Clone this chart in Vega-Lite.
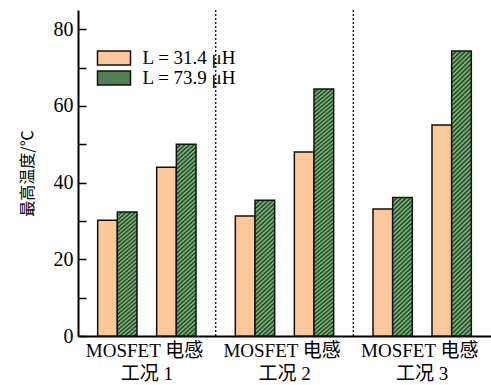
{
"$schema": "https://vega.github.io/schema/vega-lite/v6.json",
"width": 413, "height": 326,
"autosize": {"type": "none"},
"padding": {"left": 78, "top": 10, "right": 0, "bottom": 49},
"background": "white",
"config": {"view": {"stroke": null}, "font": "Liberation Serif"},
"layer": [
{
"data": {"values": [{"group": "工况 2"}, {"group": "工况 3"}]},
"mark": {"type": "rule", "strokeDash": [2, 2], "strokeWidth": 1.5, "color": "#222222"},
"encoding": {"x": {"field": "group", "type": "nominal", "bandPosition": 0, "scale": {"domain": ["工况 1", "工况 2", "工况 3"], "paddingInner": 0, "paddingOuter": 0}}}
},
{
"data": {"values": [
{"group": "工况 1", "device": "MOSFET", "L": "L=31.4μH", "slot": "MOSFET-1", "t": 30.2},
{"group": "工况 1", "device": "MOSFET", "L": "L=73.9μH", "slot": "MOSFET-2", "t": 32.3},
{"group": "工况 1", "device": "电感", "L": "L=31.4μH", "slot": "电感-1", "t": 44},
{"group": "工况 1", "device": "电感", "L": "L=73.9μH", "slot": "电感-2", "t": 50},
{"group": "工况 2", "device": "MOSFET", "L": "L=31.4μH", "slot": "MOSFET-1", "t": 31.3},
{"group": "工况 2", "device": "MOSFET", "L": "L=73.9μH", "slot": "MOSFET-2", "t": 35.4},
{"group": "工况 2", "device": "电感", "L": "L=31.4μH", "slot": "电感-1", "t": 48},
{"group": "工况 2", "device": "电感", "L": "L=73.9μH", "slot": "电感-2", "t": 64.4},
{"group": "工况 3", "device": "MOSFET", "L": "L=31.4μH", "slot": "MOSFET-1", "t": 33.1},
{"group": "工况 3", "device": "MOSFET", "L": "L=73.9μH", "slot": "MOSFET-2", "t": 36.1},
{"group": "工况 3", "device": "电感", "L": "L=31.4μH", "slot": "电感-1", "t": 55},
{"group": "工况 3", "device": "电感", "L": "L=73.9μH", "slot": "电感-2", "t": 74.3}
]},
"mark": {"type": "bar", "stroke": "#111111", "strokeWidth": 1.5},
"encoding": {
"x": {"field": "group", "type": "nominal", "scale": {"domain": ["工况 1", "工况 2", "工况 3"], "paddingInner": 0, "paddingOuter": 0},
 "axis": {"title": null, "ticks": false, "domainColor": "#000000", "domainWidth": 2, "labelAngle": 0, "labelAlign": "center", "labelFont": "Liberation Serif, Noto Sans CJK SC", "labelFontSize": 19, "labelColor": "#000000", "labelPadding": 5, "labelLineHeight": 23, "labelBaseline": "top", "labelExpr": "['MOSFET 电感 ​', datum.label]"}},
"xOffset": {"field": "slot", "type": "nominal", "scale": {"domain": ["MOSFET-1", "MOSFET-2", "gap", "电感-1", "电感-2"], "paddingInner": 0, "paddingOuter": 1.324}},
"y": {"field": "t", "type": "quantitative", "scale": {"domain": [0, 85], "nice": false},
 "axis": {"title": "最高温度/℃", "titleFont": "Noto Sans CJK SC", "titleFontSize": 16, "titleFontWeight": "normal", "titleColor": "#000000", "titlePadding": 18, "values": [0, 10, 20, 30, 40, 50, 60, 70, 80], "labelExpr": "datum.value % 20 === 0 ? datum.label : ''", "labelFont": "Liberation Serif", "labelFontSize": 20, "labelColor": "#000000", "labelPadding": 13, "tickSize": -8, "tickColor": "#000000", "tickWidth": 1.5, "domainColor": "#000000", "domainWidth": 2, "grid": false}},
"fill": {"field": "L", "type": "nominal",
 "scale": {"domain": ["L=31.4μH", "L=73.9μH"], "range": ["#fcc89b", "#517f51"]},
 "legend": {"orient": "none", "legendX": 26.5, "legendY": 38.5, "title": null, "padding": 0, "rowPadding": -2, "symbolType": "M-2.357,-1H2.357V1H-2.357Z", "symbolSize": 196, "symbolStrokeColor": "#111111", "symbolStrokeWidth": 1.5, "symbolOpacity": 1, "labelFont": "Liberation Serif", "labelFontSize": 19, "labelColor": "#000000", "labelOffset": 19,
  "labelExpr": "datum.value === 'L=31.4μH' ? 'L = 31.4 μH' : 'L = 73.9 μH'"
 },
 "condition": [
 {"test": "datum.L === 'L=73.9μH' && datum.t < 40", "value": {"gradient": "linear", "x1": 0, "y1": 0, "x2": 0.1513, "y2": 1.1151, "stops": [
{"offset":0,"color":"#1e3a1e"},{"offset":0.014,"color":"#84c484"},{"offset":0.028,"color":"#1e3a1e"},{"offset":0.042,"color":"#84c484"},{"offset":0.056,"color":"#1e3a1e"},{"offset":0.07,"color":"#84c484"},{"offset":0.084,"color":"#1e3a1e"},{"offset":0.098,"color":"#84c484"},{"offset":0.112,"color":"#1e3a1e"},{"offset":0.126,"color":"#84c484"},{"offset":0.14,"color":"#1e3a1e"},{"offset":0.154,"color":"#84c484"},{"offset":0.168,"color":"#1e3a1e"},{"offset":0.182,"color":"#84c484"},{"offset":0.196,"color":"#1e3a1e"},{"offset":0.21,"color":"#84c484"},{"offset":0.224,"color":"#1e3a1e"},{"offset":0.238,"color":"#84c484"},{"offset":0.252,"color":"#1e3a1e"},{"offset":0.266,"color":"#84c484"},{"offset":0.28,"color":"#1e3a1e"},{"offset":0.294,"color":"#84c484"},{"offset":0.308,"color":"#1e3a1e"},{"offset":0.322,"color":"#84c484"},{"offset":0.336,"color":"#1e3a1e"},{"offset":0.35,"color":"#84c484"},{"offset":0.364,"color":"#1e3a1e"},{"offset":0.378,"color":"#84c484"},{"offset":0.392,"color":"#1e3a1e"},{"offset":0.406,"color":"#84c484"},{"offset":0.42,"color":"#1e3a1e"},{"offset":0.434,"color":"#84c484"},{"offset":0.448,"color":"#1e3a1e"},{"offset":0.462,"color":"#84c484"},{"offset":0.476,"color":"#1e3a1e"},{"offset":0.49,"color":"#84c484"},{"offset":0.504,"color":"#1e3a1e"},{"offset":0.518,"color":"#84c484"},{"offset":0.532,"color":"#1e3a1e"},{"offset":0.546,"color":"#84c484"},{"offset":0.56,"color":"#1e3a1e"},{"offset":0.574,"color":"#84c484"},{"offset":0.588,"color":"#1e3a1e"},{"offset":0.602,"color":"#84c484"},{"offset":0.616,"color":"#1e3a1e"},{"offset":0.63,"color":"#84c484"},{"offset":0.644,"color":"#1e3a1e"},{"offset":0.658,"color":"#84c484"},{"offset":0.672,"color":"#1e3a1e"},{"offset":0.686,"color":"#84c484"},{"offset":0.7,"color":"#1e3a1e"},{"offset":0.714,"color":"#84c484"},{"offset":0.728,"color":"#1e3a1e"},{"offset":0.742,"color":"#84c484"},{"offset":0.756,"color":"#1e3a1e"},{"offset":0.77,"color":"#84c484"},{"offset":0.784,"color":"#1e3a1e"},{"offset":0.798,"color":"#84c484"},{"offset":0.812,"color":"#1e3a1e"},{"offset":0.826,"color":"#84c484"},{"offset":0.84,"color":"#1e3a1e"},{"offset":0.854,"color":"#84c484"},{"offset":0.868,"color":"#1e3a1e"},{"offset":0.882,"color":"#84c484"},{"offset":0.896,"color":"#1e3a1e"},{"offset":0.91,"color":"#84c484"},{"offset":0.924,"color":"#1e3a1e"},{"offset":0.938,"color":"#84c484"},{"offset":0.952,"color":"#1e3a1e"},{"offset":0.966,"color":"#84c484"},{"offset":0.98,"color":"#1e3a1e"},{"offset":0.994,"color":"#84c484"},{"offset":1,"color":"#1e3a1e"}
 ]}},
 {"test": "datum.L === 'L=73.9μH' && datum.t < 55", "value": {"gradient": "linear", "x1": 0, "y1": 0, "x2": 0.1018, "y2": 1.0843, "stops": [
{"offset":0,"color":"#1e3a1e"},{"offset":0.01,"color":"#84c484"},{"offset":0.02,"color":"#1e3a1e"},{"offset":0.03,"color":"#84c484"},{"offset":0.04,"color":"#1e3a1e"},{"offset":0.05,"color":"#84c484"},{"offset":0.06,"color":"#1e3a1e"},{"offset":0.07,"color":"#84c484"},{"offset":0.08,"color":"#1e3a1e"},{"offset":0.09,"color":"#84c484"},{"offset":0.1,"color":"#1e3a1e"},{"offset":0.11,"color":"#84c484"},{"offset":0.12,"color":"#1e3a1e"},{"offset":0.13,"color":"#84c484"},{"offset":0.14,"color":"#1e3a1e"},{"offset":0.15,"color":"#84c484"},{"offset":0.16,"color":"#1e3a1e"},{"offset":0.17,"color":"#84c484"},{"offset":0.18,"color":"#1e3a1e"},{"offset":0.19,"color":"#84c484"},{"offset":0.2,"color":"#1e3a1e"},{"offset":0.21,"color":"#84c484"},{"offset":0.22,"color":"#1e3a1e"},{"offset":0.23,"color":"#84c484"},{"offset":0.24,"color":"#1e3a1e"},{"offset":0.25,"color":"#84c484"},{"offset":0.26,"color":"#1e3a1e"},{"offset":0.27,"color":"#84c484"},{"offset":0.28,"color":"#1e3a1e"},{"offset":0.29,"color":"#84c484"},{"offset":0.3,"color":"#1e3a1e"},{"offset":0.31,"color":"#84c484"},{"offset":0.32,"color":"#1e3a1e"},{"offset":0.33,"color":"#84c484"},{"offset":0.34,"color":"#1e3a1e"},{"offset":0.35,"color":"#84c484"},{"offset":0.36,"color":"#1e3a1e"},{"offset":0.37,"color":"#84c484"},{"offset":0.38,"color":"#1e3a1e"},{"offset":0.39,"color":"#84c484"},{"offset":0.4,"color":"#1e3a1e"},{"offset":0.41,"color":"#84c484"},{"offset":0.42,"color":"#1e3a1e"},{"offset":0.43,"color":"#84c484"},{"offset":0.44,"color":"#1e3a1e"},{"offset":0.45,"color":"#84c484"},{"offset":0.46,"color":"#1e3a1e"},{"offset":0.47,"color":"#84c484"},{"offset":0.48,"color":"#1e3a1e"},{"offset":0.49,"color":"#84c484"},{"offset":0.5,"color":"#1e3a1e"},{"offset":0.51,"color":"#84c484"},{"offset":0.52,"color":"#1e3a1e"},{"offset":0.53,"color":"#84c484"},{"offset":0.54,"color":"#1e3a1e"},{"offset":0.55,"color":"#84c484"},{"offset":0.56,"color":"#1e3a1e"},{"offset":0.57,"color":"#84c484"},{"offset":0.58,"color":"#1e3a1e"},{"offset":0.59,"color":"#84c484"},{"offset":0.6,"color":"#1e3a1e"},{"offset":0.61,"color":"#84c484"},{"offset":0.62,"color":"#1e3a1e"},{"offset":0.63,"color":"#84c484"},{"offset":0.64,"color":"#1e3a1e"},{"offset":0.65,"color":"#84c484"},{"offset":0.66,"color":"#1e3a1e"},{"offset":0.67,"color":"#84c484"},{"offset":0.68,"color":"#1e3a1e"},{"offset":0.69,"color":"#84c484"},{"offset":0.7,"color":"#1e3a1e"},{"offset":0.71,"color":"#84c484"},{"offset":0.72,"color":"#1e3a1e"},{"offset":0.73,"color":"#84c484"},{"offset":0.74,"color":"#1e3a1e"},{"offset":0.75,"color":"#84c484"},{"offset":0.76,"color":"#1e3a1e"},{"offset":0.77,"color":"#84c484"},{"offset":0.78,"color":"#1e3a1e"},{"offset":0.79,"color":"#84c484"},{"offset":0.8,"color":"#1e3a1e"},{"offset":0.81,"color":"#84c484"},{"offset":0.82,"color":"#1e3a1e"},{"offset":0.83,"color":"#84c484"},{"offset":0.84,"color":"#1e3a1e"},{"offset":0.85,"color":"#84c484"},{"offset":0.86,"color":"#1e3a1e"},{"offset":0.87,"color":"#84c484"},{"offset":0.88,"color":"#1e3a1e"},{"offset":0.89,"color":"#84c484"},{"offset":0.9,"color":"#1e3a1e"},{"offset":0.91,"color":"#84c484"},{"offset":0.92,"color":"#1e3a1e"},{"offset":0.93,"color":"#84c484"},{"offset":0.94,"color":"#1e3a1e"},{"offset":0.95,"color":"#84c484"},{"offset":0.96,"color":"#1e3a1e"},{"offset":0.97,"color":"#84c484"},{"offset":0.98,"color":"#1e3a1e"},{"offset":0.99,"color":"#84c484"},{"offset":1,"color":"#1e3a1e"}
 ]}},
 {"test": "datum.L === 'L=73.9μH'", "value": {"gradient": "linear", "x1": 0, "y1": 0, "x2": 0.0719, "y2": 1.0628, "stops": [
{"offset":0,"color":"#1e3a1e"},{"offset":0.0075,"color":"#84c484"},{"offset":0.015,"color":"#1e3a1e"},{"offset":0.0225,"color":"#84c484"},{"offset":0.03,"color":"#1e3a1e"},{"offset":0.0375,"color":"#84c484"},{"offset":0.045,"color":"#1e3a1e"},{"offset":0.0525,"color":"#84c484"},{"offset":0.06,"color":"#1e3a1e"},{"offset":0.0675,"color":"#84c484"},{"offset":0.075,"color":"#1e3a1e"},{"offset":0.0825,"color":"#84c484"},{"offset":0.09,"color":"#1e3a1e"},{"offset":0.0975,"color":"#84c484"},{"offset":0.105,"color":"#1e3a1e"},{"offset":0.1125,"color":"#84c484"},{"offset":0.12,"color":"#1e3a1e"},{"offset":0.1275,"color":"#84c484"},{"offset":0.135,"color":"#1e3a1e"},{"offset":0.1425,"color":"#84c484"},{"offset":0.15,"color":"#1e3a1e"},{"offset":0.1575,"color":"#84c484"},{"offset":0.165,"color":"#1e3a1e"},{"offset":0.1725,"color":"#84c484"},{"offset":0.18,"color":"#1e3a1e"},{"offset":0.1875,"color":"#84c484"},{"offset":0.195,"color":"#1e3a1e"},{"offset":0.2025,"color":"#84c484"},{"offset":0.21,"color":"#1e3a1e"},{"offset":0.2175,"color":"#84c484"},{"offset":0.225,"color":"#1e3a1e"},{"offset":0.2325,"color":"#84c484"},{"offset":0.24,"color":"#1e3a1e"},{"offset":0.2475,"color":"#84c484"},{"offset":0.255,"color":"#1e3a1e"},{"offset":0.2625,"color":"#84c484"},{"offset":0.27,"color":"#1e3a1e"},{"offset":0.2775,"color":"#84c484"},{"offset":0.285,"color":"#1e3a1e"},{"offset":0.2925,"color":"#84c484"},{"offset":0.3,"color":"#1e3a1e"},{"offset":0.3075,"color":"#84c484"},{"offset":0.315,"color":"#1e3a1e"},{"offset":0.3225,"color":"#84c484"},{"offset":0.33,"color":"#1e3a1e"},{"offset":0.3375,"color":"#84c484"},{"offset":0.345,"color":"#1e3a1e"},{"offset":0.3525,"color":"#84c484"},{"offset":0.36,"color":"#1e3a1e"},{"offset":0.3675,"color":"#84c484"},{"offset":0.375,"color":"#1e3a1e"},{"offset":0.3825,"color":"#84c484"},{"offset":0.39,"color":"#1e3a1e"},{"offset":0.3975,"color":"#84c484"},{"offset":0.405,"color":"#1e3a1e"},{"offset":0.4125,"color":"#84c484"},{"offset":0.42,"color":"#1e3a1e"},{"offset":0.4275,"color":"#84c484"},{"offset":0.435,"color":"#1e3a1e"},{"offset":0.4425,"color":"#84c484"},{"offset":0.45,"color":"#1e3a1e"},{"offset":0.4575,"color":"#84c484"},{"offset":0.465,"color":"#1e3a1e"},{"offset":0.4725,"color":"#84c484"},{"offset":0.48,"color":"#1e3a1e"},{"offset":0.4875,"color":"#84c484"},{"offset":0.495,"color":"#1e3a1e"},{"offset":0.5025,"color":"#84c484"},{"offset":0.51,"color":"#1e3a1e"},{"offset":0.5175,"color":"#84c484"},{"offset":0.525,"color":"#1e3a1e"},{"offset":0.5325,"color":"#84c484"},{"offset":0.54,"color":"#1e3a1e"},{"offset":0.5475,"color":"#84c484"},{"offset":0.555,"color":"#1e3a1e"},{"offset":0.5625,"color":"#84c484"},{"offset":0.57,"color":"#1e3a1e"},{"offset":0.5775,"color":"#84c484"},{"offset":0.585,"color":"#1e3a1e"},{"offset":0.5925,"color":"#84c484"},{"offset":0.6,"color":"#1e3a1e"},{"offset":0.6075,"color":"#84c484"},{"offset":0.615,"color":"#1e3a1e"},{"offset":0.6225,"color":"#84c484"},{"offset":0.63,"color":"#1e3a1e"},{"offset":0.6375,"color":"#84c484"},{"offset":0.645,"color":"#1e3a1e"},{"offset":0.6525,"color":"#84c484"},{"offset":0.66,"color":"#1e3a1e"},{"offset":0.6675,"color":"#84c484"},{"offset":0.675,"color":"#1e3a1e"},{"offset":0.6825,"color":"#84c484"},{"offset":0.69,"color":"#1e3a1e"},{"offset":0.6975,"color":"#84c484"},{"offset":0.705,"color":"#1e3a1e"},{"offset":0.7125,"color":"#84c484"},{"offset":0.72,"color":"#1e3a1e"},{"offset":0.7275,"color":"#84c484"},{"offset":0.735,"color":"#1e3a1e"},{"offset":0.7425,"color":"#84c484"},{"offset":0.75,"color":"#1e3a1e"},{"offset":0.7575,"color":"#84c484"},{"offset":0.765,"color":"#1e3a1e"},{"offset":0.7725,"color":"#84c484"},{"offset":0.78,"color":"#1e3a1e"},{"offset":0.7875,"color":"#84c484"},{"offset":0.795,"color":"#1e3a1e"},{"offset":0.8025,"color":"#84c484"},{"offset":0.81,"color":"#1e3a1e"},{"offset":0.8175,"color":"#84c484"},{"offset":0.825,"color":"#1e3a1e"},{"offset":0.8325,"color":"#84c484"},{"offset":0.84,"color":"#1e3a1e"},{"offset":0.8475,"color":"#84c484"},{"offset":0.855,"color":"#1e3a1e"},{"offset":0.8625,"color":"#84c484"},{"offset":0.87,"color":"#1e3a1e"},{"offset":0.8775,"color":"#84c484"},{"offset":0.885,"color":"#1e3a1e"},{"offset":0.8925,"color":"#84c484"},{"offset":0.9,"color":"#1e3a1e"},{"offset":0.9075,"color":"#84c484"},{"offset":0.915,"color":"#1e3a1e"},{"offset":0.9225,"color":"#84c484"},{"offset":0.93,"color":"#1e3a1e"},{"offset":0.9375,"color":"#84c484"},{"offset":0.945,"color":"#1e3a1e"},{"offset":0.9525,"color":"#84c484"},{"offset":0.96,"color":"#1e3a1e"},{"offset":0.9675,"color":"#84c484"},{"offset":0.975,"color":"#1e3a1e"},{"offset":0.9825,"color":"#84c484"},{"offset":0.99,"color":"#1e3a1e"},{"offset":0.9975,"color":"#84c484"},{"offset":1,"color":"#1e3a1e"}
 ]}}
 ]
}
}
}
]
}
